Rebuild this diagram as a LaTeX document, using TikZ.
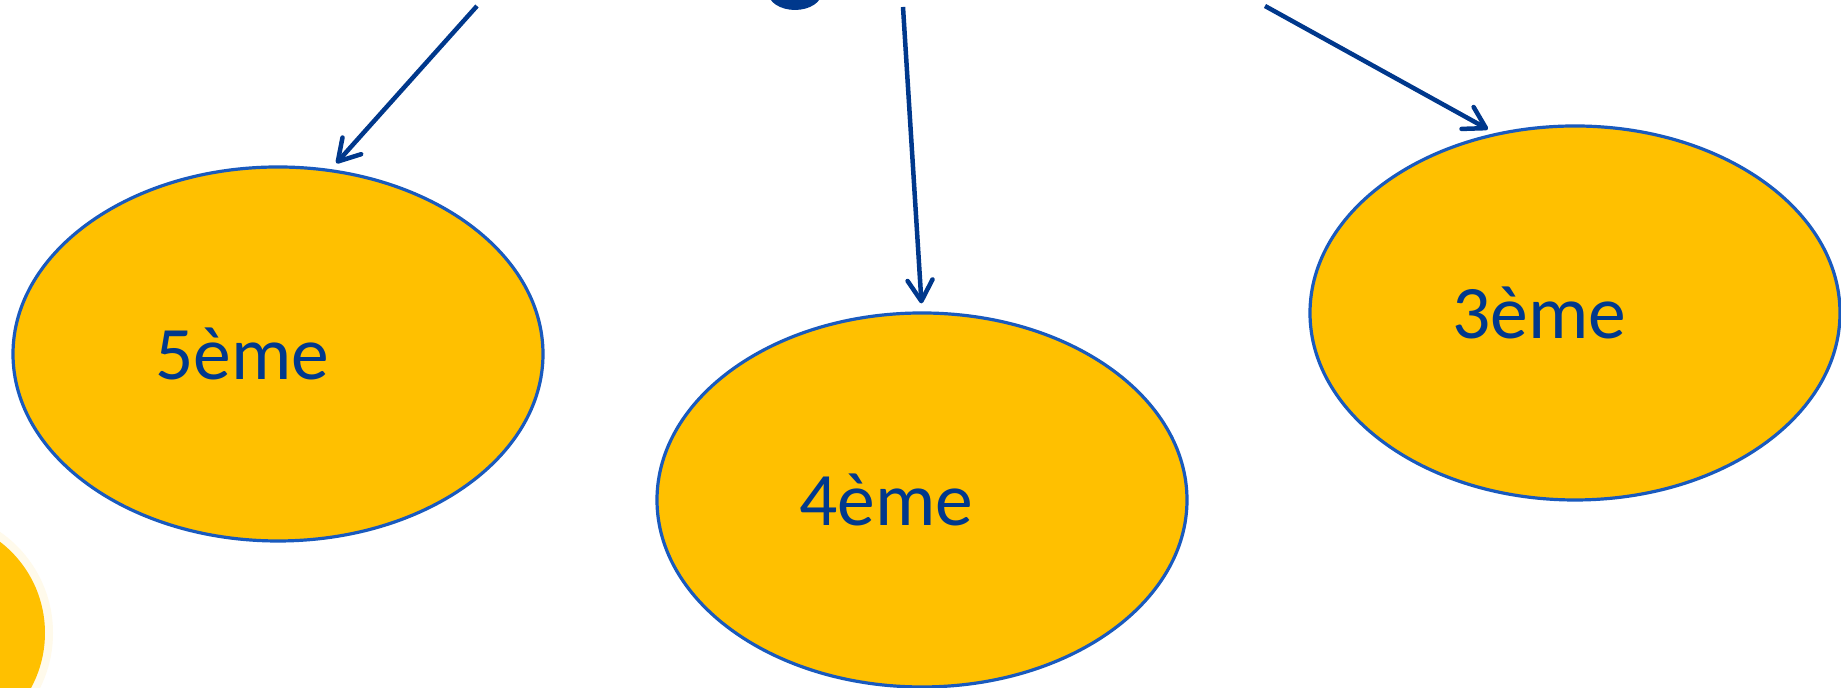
\documentclass[tikz,border=0pt]{standalone}
\usepackage{fontspec}
\setmainfont{Carlito}
\usepackage{xcolor}
\usepackage{tikz}
\usetikzlibrary{shapes.geometric,arrows.meta,positioning}

\definecolor{gold}{RGB}{255,192,0}
\definecolor{navy}{RGB}{0,56,140}
\definecolor{rim}{RGB}{25,90,190}

\begin{document}
\begin{tikzpicture}[
    classe/.style={ellipse, draw=rim, line width=0.32mm, fill=gold, minimum width=5.3cm, minimum height=3.74cm, inner sep=0pt},
    niveau/.style={text=navy, font=\fontsize{21.5}{25}\selectfont, xshift=-3.6mm},
    fleche/.style={-{Straight Barb[length=2.1mm, width=2.5mm, round]}, navy, line width=0.45mm, shorten >=0.8mm}]
    \useasboundingbox (0,0) rectangle (18.41,6.88);
    \clip (0,0) rectangle (18.41,6.88);
    \fill[white] (0,0) rectangle (18.41,6.88);
    % bits cut off by the frame
    \fill[gold!8] (-0.70,0.55) circle (1.23);
    \fill[gold] (-0.70,0.55) circle (1.15);
    \fill[navy] (7.95,6.96) ellipse (0.27 and 0.18);
    % the three levels
    \node[classe] (e5) at (2.78,3.34) {};
    \node[classe] (e4) at (9.22,1.88) {};
    \node[classe] (e3) at (15.75,3.75) {};
    \node[niveau] (t5) at (e5) {5ème};
    \node[niveau] (t4) at (e4) {4ème};
    \node[niveau] (t3) at (e3) {3ème};
    % arrows coming from above
    \coordinate (s5) at (4.77,6.82);
    \coordinate (s4) at (9.03,6.81);
    \coordinate (s3) at (12.65,6.82);
    \draw[fleche] (s5) -- (e5.74);
    \draw[fleche] (s4) -- (e4.north);
    \draw[fleche] (s3) -- (e3.114);
\end{tikzpicture}
\end{document}
